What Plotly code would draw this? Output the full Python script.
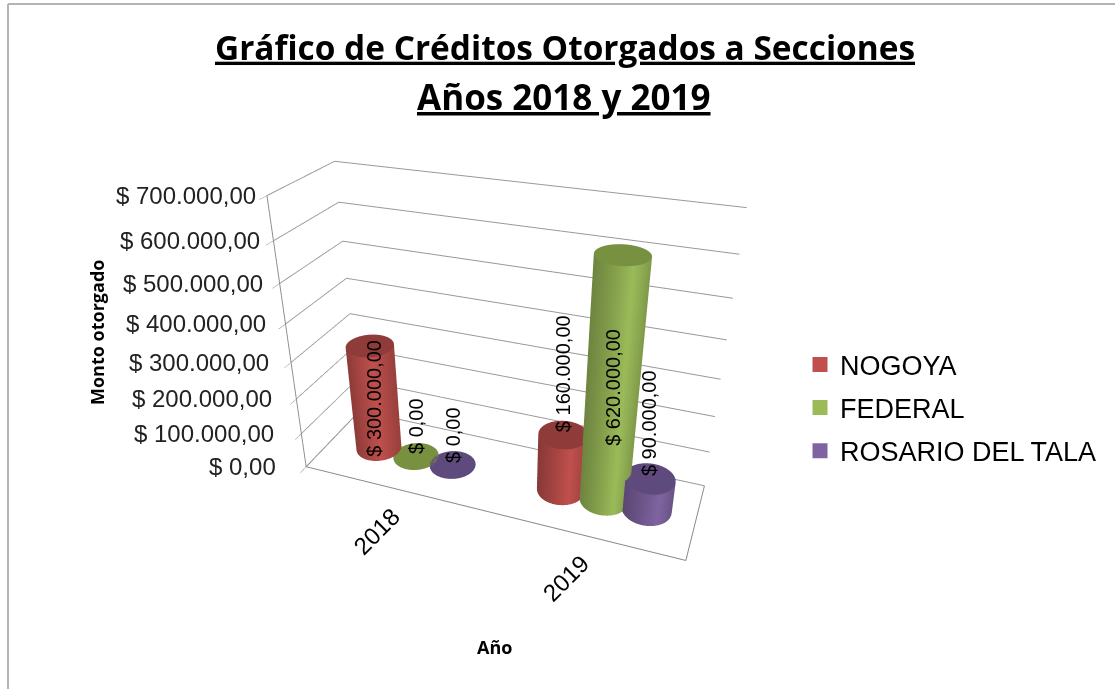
import numpy as np
import plotly.graph_objects as go

YEARS = ["2018", "2019"]
SERIES = ["NOGOYA", "FEDERAL", "ROSARIO DEL TALA"]
NOGOYA = [300000, 160000]
FEDERAL = [0, 620000]
ROSARIO = [0, 90000]
Z_TICKS = [0, 100000, 200000, 300000, 400000, 500000, 600000, 700000]

VALUES = [NOGOYA, FEDERAL, ROSARIO]
SIDE = ["#c0504d", "#9bbb59", "#8064a2"]
TOP = ["#8e3b39", "#779141", "#5f4a7d"]
OFFSET = [-0.235, -0.01, 0.205]
GROUP_SHIFT = [0.015, 0.055]
ASPECT = dict(x=1.145, y=0.33, z=0.85)
RX = 0.122
RY = RX / 2 * ASPECT["x"] / ASPECT["y"]


def money(v):
    return "$ " + f"{v:,.2f}".replace(",", "#").replace(".", ",").replace("#", ".")


def shade(c, f):
    r, g, b = [int(c[i:i + 2], 16) for i in (1, 3, 5)]
    return f"rgb({int(r*f)},{int(g*f)},{int(b*f)})"


fig = go.Figure()
ann = []
t = np.linspace(0, 2 * np.pi, 61)
for s, name in enumerate(SERIES):
    for c, val in enumerate(VALUES[s]):
        xc, yc = c + 0.5 + OFFSET[s] + GROUP_SHIFT[c], 0.5
        xs = xc + RX * np.cos(t)
        ys = yc + RY * np.sin(t)
        if val > 0:
            fig.add_trace(go.Surface(
                x=np.array([xs, xs]), y=np.array([ys, ys]),
                z=np.array([np.zeros_like(t), np.full_like(t, val)]),
                surfacecolor=np.array([np.cos(t - 0.4)] * 2),
                colorscale=[[0, shade(SIDE[s], .72)], [0.6, SIDE[s]], [1, shade(SIDE[s], .8)]],
                cmin=-1, cmax=1, showscale=False, hoverinfo="skip",
                lighting=dict(ambient=1, diffuse=0, specular=0, fresnel=0)))
        rr = np.array([0, 1])
        fig.add_trace(go.Surface(
            x=xc + RX * np.outer(rr, np.cos(t)), y=yc + RY * np.outer(rr, np.sin(t)),
            z=np.full((2, t.size), val),
            surfacecolor=np.zeros((2, t.size)),
            colorscale=[[0, TOP[s]], [1, TOP[s]]], showscale=False, hoverinfo="skip",
            lighting=dict(ambient=1, diffuse=0, specular=0, fresnel=0)))
        big = val >= 200000
        ann.append(dict(x=xc, y=yc, z=val / 2 if big else val, text=money(val),
                        textangle=-90, showarrow=False, yanchor="middle" if big else "bottom",
                        font=dict(family="Liberation Sans", size=20, color="black")))

for v in Z_TICKS:
    ann.append(dict(x=0, y=0, z=v, text=money(v), showarrow=False, xanchor="right",
                    xshift=-28 + 19 * v / max(Z_TICKS),
                    font=dict(family="Liberation Sans", size=24, color="#222222")))
for i, y in enumerate(YEARS):
    ann.append(dict(x=i + 0.5, y=0, z=0, text=y, showarrow=False, textangle=-45, xshift=-14, yshift=-44,
                    font=dict(family="Liberation Sans", size=24, color="black")))

for s, name in enumerate(SERIES):
    fig.add_trace(go.Scatter3d(x=[None], y=[None], z=[None], mode="markers", name=name,
                               legendgroup=name,
                               marker=dict(symbol="square", size=15, color=SIDE[s]), hoverinfo="skip"))

FR = "#8c8c8c"
for xx, yy in [([2, 2], [0, 1]), ([1, 1], [0, -0.05]), ([0, 0], [0, 1]), ([0, 2], [0, 0])]:
    fig.add_trace(go.Scatter3d(x=xx, y=yy, z=[0, 0], mode="lines", showlegend=False,
                               line=dict(color=FR, width=2), hoverinfo="skip"))

common = dict(showbackground=False, showspikes=False, zeroline=False, title="", showticklabels=False)
eye_d = 2.225
el, az = np.radians(29), np.radians(20.5)
fig.update_layout(
    width=1115, height=689, margin=dict(l=0, r=0, t=0, b=0),
    paper_bgcolor="white", showlegend=True, hovermode=False,
    title=dict(text="<b><u>Gráfico de Créditos Otorgados a Secciones</u></b>",
               x=565 / 1115, xanchor="center", y=1 - 48 / 689, yanchor="middle",
               font=dict(family="Open Sans", size=33.4, color="black")),
    legend=dict(x=0.7175, y=0.408, yanchor="middle", xanchor="left", bgcolor="rgba(0,0,0,0)",
                tracegroupgap=5, font=dict(family="Liberation Sans", size=27, color="black")),
    scene=dict(
        domain=dict(x=[0, 0.90], y=[0, 0.98]),
        aspectmode="manual", aspectratio=ASPECT,
        camera=dict(eye=dict(x=eye_d * np.sin(az) * np.cos(el), y=-eye_d * np.cos(az) * np.cos(el), z=eye_d * np.sin(el)),
                    center=dict(x=0, y=0, z=0), up=dict(x=0, y=0, z=1)),
        xaxis=dict(range=[0, 2], showgrid=False, ticks="", **common),
        yaxis=dict(range=[0, 1], showgrid=False, ticks="", **common),
        zaxis=dict(range=[0, 700000], tickvals=Z_TICKS,
                   showgrid=True, gridcolor="#989898", gridwidth=2, showline=True, linecolor=FR, linewidth=2,
                   ticks="outside", ticklen=8, tickcolor=FR, **common),
        annotations=ann),
    annotations=[
        dict(text="<b><u>Años 2018 y 2019</u></b>", xref="paper", yref="paper", x=564 / 1115, y=1 - 97 / 689,
             xanchor="center", yanchor="middle", showarrow=False, font=dict(family="Open Sans", size=35, color="black")),
        dict(text="<b>Monto otorgado</b>", xref="paper", yref="paper", x=97 / 1115, y=1 - 333 / 689,
             xanchor="center", yanchor="middle", textangle=-90, showarrow=False, font=dict(family="Open Sans", size=18, color="black")),
        dict(text="<b>Año</b>", xref="paper", yref="paper", x=494 / 1115, y=1 - 647 / 689,
             xanchor="center", yanchor="middle", showarrow=False, font=dict(family="Open Sans", size=18, color="black")),
    ],
    shapes=[
        dict(type="line", xref="paper", yref="paper", x0=8 / 1115, x1=8 / 1115, y0=0, y1=1 - 4 / 689,
             line=dict(color="#b4b4b4", width=2)),
        dict(type="line", xref="paper", yref="paper", x0=8 / 1115, x1=1, y0=1 - 4 / 689, y1=1 - 4 / 689,
             line=dict(color="#b4b4b4", width=2)),
    ],
)
fig.write_html("out.html", config=dict(displayModeBar=False),
               post_script="document.body.style.margin='0';document.body.style.overflow='hidden';")
